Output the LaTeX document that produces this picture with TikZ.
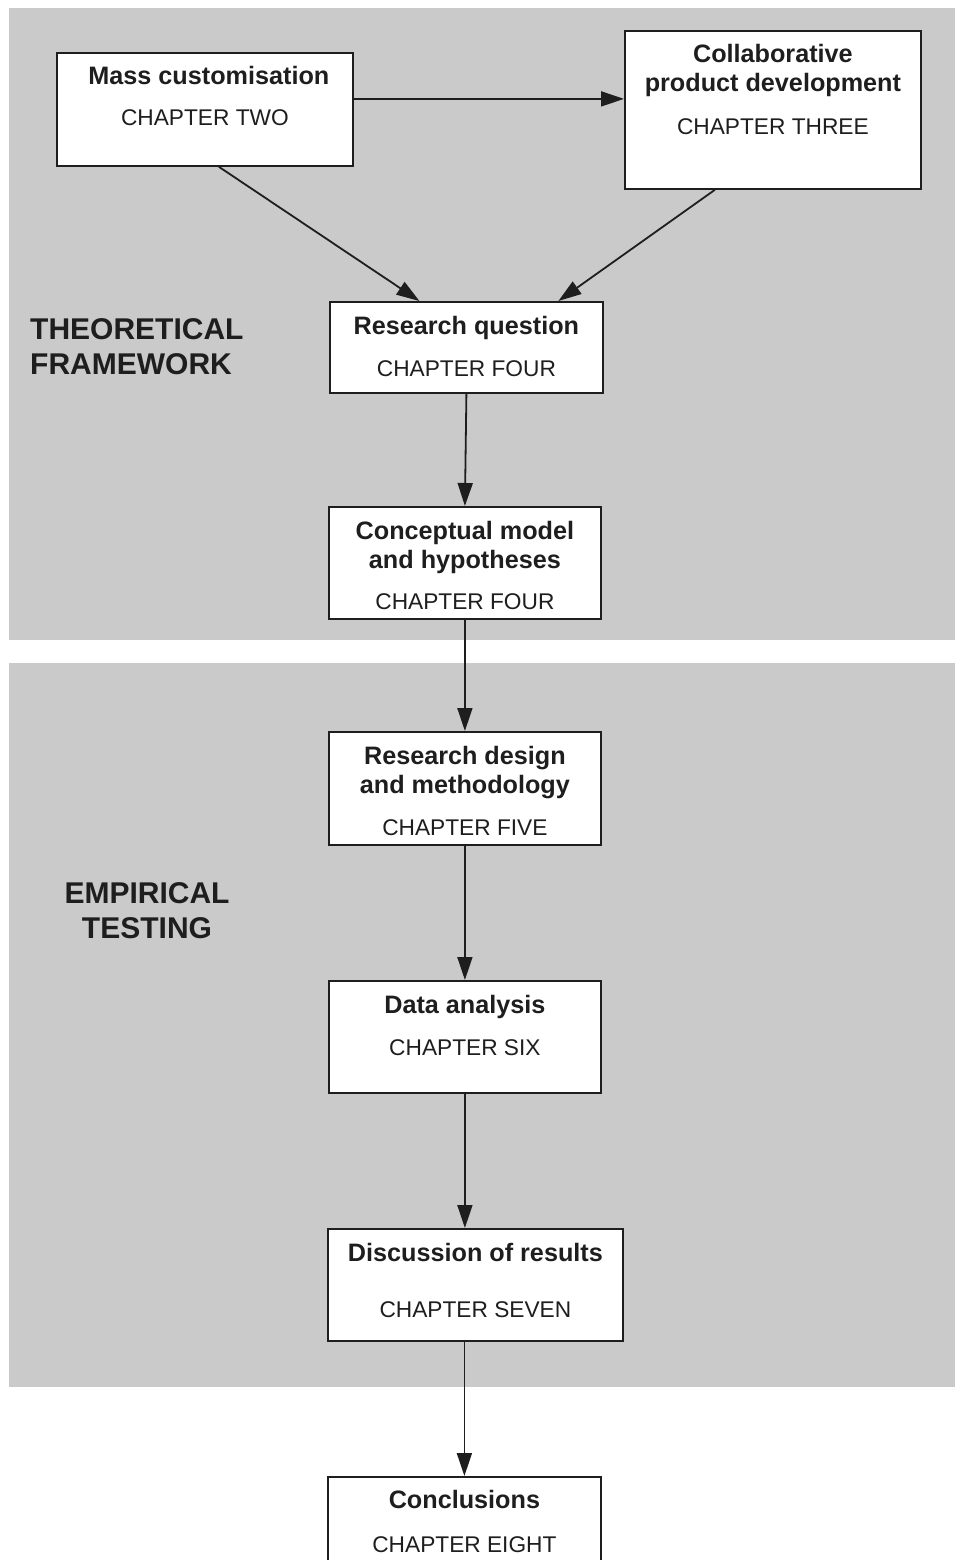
\documentclass[tikz,border=0pt]{standalone}
\usepackage{fontspec}
\setmainfont{Liberation Sans}
\usetikzlibrary{arrows.meta}
\definecolor{panel}{RGB}{202,202,202}
\definecolor{ink}{RGB}{30,30,30}
\begin{document}
\begin{tikzpicture}[x=1pt,y=-1pt,
 box/.style={draw=ink, line width=1.8pt, fill=white, inner sep=0pt, anchor=north west},
 ttl/.style={font=\fontsize{25.2}{29}\selectfont\bfseries, text=ink, anchor=base, inner sep=0pt},
 chp/.style={font=\fontsize{22.7}{27}\selectfont, text=ink, anchor=base, inner sep=0pt},
 lbl/.style={font=\fontsize{30}{34}\selectfont\bfseries, text=ink, anchor=base west, inner sep=0pt},
 lblc/.style={font=\fontsize{30}{34}\selectfont\bfseries, text=ink, anchor=base, inner sep=0pt},
 arr/.style={draw=ink, line width=1.8pt, -{Triangle[length=23pt,width=15pt]}}]
\useasboundingbox (0,0) rectangle (955,1560);
\clip (0,0) rectangle (955,1560);
% panels
\fill[panel] (9,8) rectangle (955,640);
\fill[panel] (9,663) rectangle (955,1387);
% boxes
\node[box, minimum width=296pt, minimum height=113pt] (mass) at (56,52) {};
\node[box, minimum width=296pt, minimum height=158pt] (collab) at (624,30) {};
\node[box, minimum width=273pt, minimum height=91pt] (rq) at (329,301) {};
\node[box, minimum width=272pt, minimum height=112pt] (cm) at (328,506) {};
\node[box, minimum width=272pt, minimum height=113pt] (rd) at (328,731) {};
\node[box, minimum width=272pt, minimum height=112pt] (da) at (328,980) {};
\node[box, minimum width=295pt, minimum height=112pt] (disc) at (327,1228) {};
\node[box, minimum width=273pt, minimum height=130pt] (concl) at (327,1476) {};
% texts
\node[ttl] (mass-t) at ([xshift=4pt,yshift=-33pt]mass.north) {Mass customisation};
\node[chp] (mass-c) at ([yshift=-74pt]mass.north) {CHAPTER TWO};
\node[ttl] (collab-t1) at ([yshift=-33pt]collab.north) {Collaborative};
\node[ttl] (collab-t2) at ([yshift=-62pt]collab.north) {product development};
\node[chp] (collab-c) at ([yshift=-105pt]collab.north) {CHAPTER THREE};
\node[ttl] (rq-t) at ([yshift=-33pt]rq.north) {Research question};
\node[chp] (rq-c) at ([yshift=-75pt]rq.north) {CHAPTER FOUR};
\node[ttl] (cm-t1) at ([yshift=-33pt]cm.north) {Conceptual model};
\node[ttl] (cm-t2) at ([yshift=-62pt]cm.north) {and hypotheses};
\node[chp] (cm-c) at ([yshift=-103pt]cm.north) {CHAPTER FOUR};
\node[ttl] (rd-t1) at ([yshift=-33pt]rd.north) {Research design};
\node[ttl] (rd-t2) at ([yshift=-62pt]rd.north) {and methodology};
\node[chp] (rd-c) at ([yshift=-104pt]rd.north) {CHAPTER FIVE};
\node[ttl] (da-t) at ([yshift=-33pt]da.north) {Data analysis};
\node[chp] (da-c) at ([yshift=-75pt]da.north) {CHAPTER SIX};
\node[ttl] (disc-t) at ([yshift=-33pt]disc.north) {Discussion of results};
\node[chp] (disc-c) at ([yshift=-89pt]disc.north) {CHAPTER SEVEN};
\node[ttl] (concl-t) at ([yshift=-32pt]concl.north) {Conclusions};
\node[chp] (concl-c) at ([yshift=-76pt]concl.north) {CHAPTER EIGHT};
% side labels
\node[lbl] (th1) at (30,339) {THEORETICAL};
\node[lbl] (th2) at (30,374) {FRAMEWORK};
\node[lblc] (em1) at (147,903) {EMPIRICAL};
\node[lblc] (em2) at (147,938) {TESTING};
% connectors
\draw[arr] ([yshift=10.5pt]mass.east) -- ([yshift=10.5pt]mass.east -| collab.west);
\draw[arr] ([xshift=14pt]mass.south) -- ([xshift=-47pt]rq.north);
\draw[arr] ([xshift=-58pt]collab.south) -- ([xshift=92pt]rq.north);
\draw[arr] (rq.south) -- (cm.north);
\draw[arr] (cm.south) -- (rd.north);
\draw[arr] (rd.south) -- (da.north);
\draw[arr] (da.south) -- (da.south |- disc.north);
\draw[arr] (concl.north |- disc.south) -- (concl.north);
\end{tikzpicture}
\end{document}
